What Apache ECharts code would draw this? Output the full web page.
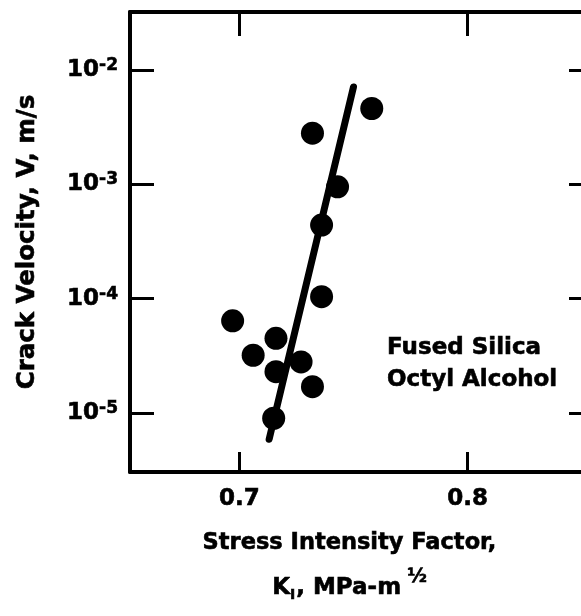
<!DOCTYPE html>
<html>
<head>
<meta charset="utf-8">
<script src="https://cdn.jsdelivr.net/npm/echarts@6/dist/echarts.min.js"></script>
<style>
html, body { margin: 0; padding: 0; overflow: hidden; background: #fff; }
#main { width: 600px; height: 616px; }
</style>
</head>
<body>
<div id="main"></div>
<script>
// measured points: stress intensity factor vs crack velocity
var stressK = [0.697, 0.706, 0.716, 0.716, 0.727, 0.732, 0.715, 0.736, 0.736, 0.743, 0.732, 0.758];
var velocity = [6.4e-5, 3.2e-5, 4.5e-5, 2.3e-5, 2.8e-5, 1.7e-5, 9.0e-6, 1.04e-4, 4.4e-4, 9.5e-4, 2.8e-3, 4.6e-3];
// fitted line end points
var fitK = [0.713, 0.750];
var fitV = [5.9e-6, 7.1e-3];
var xTicks = [0.7, 0.8];
var yTicks = [1e-5, 1e-4, 1e-3, 1e-2];

var font = 'DejaVu Sans';
var chart = echarts.init(document.getElementById('main'));

var points = stressK.map(function (k, i) { return [k, velocity[i]]; });
var fitLine = fitK.map(function (k, i) { return [k, fitV[i]]; });

var lineStyle = { color: '#000', width: 4 };
var tickStyle = { color: '#000', width: 3 };
// heavy ink look of the scanned lettering
var ink = { fontFamily: font, fontWeight: 'bold', color: '#000', textBorderColor: '#000', textBorderWidth: 0.6 };

function txt(extra) {
    return Object.assign({}, ink, extra);
}

function expLabel(v) {
    var e = Math.round(Math.log(v) / Math.LN10);
    return '{b|10}{s|' + e + '}';
}

var option = {
    animation: false,
    backgroundColor: '#fff',
    title: {
        text: 'Fused Silica\nOctyl Alcohol',
        left: 382,
        top: 327,
        textStyle: txt({ fontSize: 23, lineHeight: 32 })
    },
    grid: { left: 130, top: 12, width: 463, height: 460, outerBoundsMode: 'none' },
    xAxis: [
        {
            type: 'value', position: 'bottom', min: 0.652, max: 0.855,
            axisLine: { lineStyle: lineStyle },
            axisTick: { inside: true, length: 20, lineStyle: tickStyle, customValues: xTicks },
            axisLabel: txt({
                customValues: xTicks, margin: 16, fontSize: 23,
                formatter: function (v) { return v.toFixed(1); }
            }),
            splitLine: { show: false },
            name: '{a|Stress Intensity Factor,}\n{b|K}{sub|I}{b|, MPa-m}{sup|\u00bd}',
            nameLocation: 'middle',
            nameGap: 49,
            nameTextStyle: txt({
                fontSize: 22,
                padding: [0, 24, 0, 0],
                rich: {
                    a: txt({ fontSize: 22.5, lineHeight: 45 }),
                    b: txt({ fontSize: 23, lineHeight: 45 }),
                    sub: txt({ fontSize: 14, lineHeight: 45, verticalAlign: 'middle', padding: [14, 1, 0, 0] }),
                    sup: txt({ fontSize: 19, lineHeight: 45, verticalAlign: 'middle', padding: [0, 0, 22, 6] })
                }
            })
        },
        {
            type: 'value', position: 'top', min: 0.652, max: 0.855,
            axisLine: { lineStyle: lineStyle },
            axisTick: { inside: true, length: 24, lineStyle: tickStyle, customValues: xTicks },
            axisLabel: { show: false },
            splitLine: { show: false }
        }
    ],
    yAxis: [
        {
            type: 'log', logBase: 10, position: 'left', min: 3.05e-6, max: 0.0321,
            axisLine: { lineStyle: lineStyle },
            axisTick: { inside: true, length: 24, lineStyle: tickStyle, customValues: yTicks },
            axisLabel: {
                customValues: yTicks, margin: 12, formatter: expLabel,
                rich: {
                    b: txt({ fontSize: 23, lineHeight: 26 }),
                    s: txt({ fontSize: 17, verticalAlign: 'top', lineHeight: 20 })
                }
            },
            splitLine: { show: false },
            minorTick: { show: false },
            name: 'Crack Velocity, V, m/s',
            nameLocation: 'middle',
            nameGap: 90,
            nameTextStyle: txt({ fontSize: 24.5 })
        },
        {
            type: 'log', logBase: 10, position: 'right', min: 3.05e-6, max: 0.0321,
            axisLine: { lineStyle: lineStyle },
            axisTick: { inside: true, length: 24, lineStyle: tickStyle, customValues: yTicks },
            axisLabel: { show: false },
            splitLine: { show: false }
        }
    ],
    series: [
        {
            type: 'line',
            data: fitLine,
            symbol: 'none',
            lineStyle: { color: '#000', width: 7, cap: 'round' },
            z: 2
        },
        {
            type: 'scatter',
            data: points,
            symbol: 'circle',
            symbolSize: 23,
            itemStyle: { color: '#000', opacity: 1 },
            z: 3
        }
    ]
};

chart.setOption(option);
</script>
</body>
</html>
